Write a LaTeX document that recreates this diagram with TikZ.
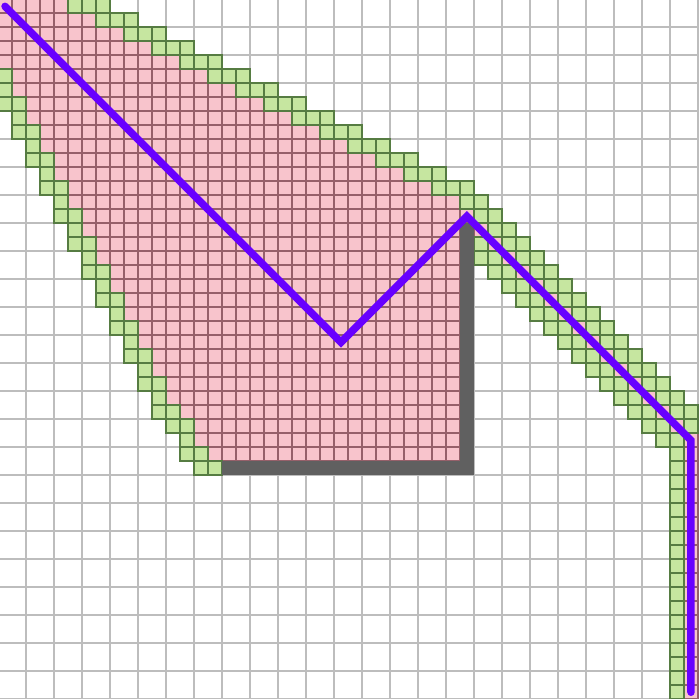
\documentclass[tikz,border=0pt]{standalone}
\usepackage{tikz}
\usetikzlibrary{calc}
\definecolor{seenpink}{RGB}{248,196,204}
\definecolor{seenedge}{RGB}{150,96,106}
\definecolor{frontgreen}{RGB}{198,230,160}
\definecolor{frontedge}{RGB}{86,124,66}
\definecolor{wallgray}{RGB}{96,96,96}
\definecolor{routeviolet}{RGB}{104,0,255}

\begin{document}
\begin{tikzpicture}[
  x=5mm, y=-5mm,
  gridline/.style={draw=black!26, line width=2.3pt},
  seen/.style={draw=seenedge, fill=seenpink, line width=2.3pt},
  front/.style={draw=frontedge, fill=frontgreen, line width=2.3pt},
  wall/.style={fill=wallgray},
  route/.style={draw=routeviolet, line width=7.6pt, line cap=round, line join=miter}
]
\useasboundingbox (0.143,0.05) rectangle (50.07,49.98);
\fill[white] (0,0) rectangle (51,51);
\draw[gridline] (0,0) grid (51,51);

% explored cells, row/first/last
\foreach \r/\a/\b in {0/0/4, 1/0/6, 2/0/8, 3/0/10, 4/0/12, 5/1/14, 6/1/16,
    7/2/18, 8/2/20, 9/3/22, 10/3/24, 11/4/26, 12/4/28, 13/5/30, 14/5/32,
    15/6/33, 16/6/32, 17/7/32, 18/7/32, 19/8/32, 20/8/32, 21/9/32, 22/9/32,
    23/10/32, 24/10/32, 25/11/32, 26/11/32, 27/12/32, 28/12/32, 29/13/32,
    30/14/32, 31/14/32, 32/15/32}
  \foreach \c in {\a,...,\b}
    \draw[seen] (\c,\r) rectangle ++(1,1);
\foreach \k in {0,...,15}
  \draw[seen] (34+\k,16+\k) rectangle ++(1,1);
\foreach \r in {32,...,49}
  \draw[seen] (49,\r) rectangle ++(1,1);

% open cells
\foreach \r/\a/\b in {5/0/0, 6/0/0, 7/0/1, 8/1/1, 9/1/2, 10/2/2, 11/2/3,
    12/3/3, 13/3/4, 14/4/4, 15/4/5, 16/5/5, 17/5/6, 18/6/6, 19/6/7, 20/7/7,
    21/7/8, 22/8/8, 23/8/9, 24/9/9, 25/9/10, 26/10/10, 27/10/11, 28/11/11,
    29/11/12, 30/12/13, 31/13/13, 32/13/14, 33/14/15,
    13/31/33, 14/33/34, 15/34/35, 16/35/36, 17/34/34, 31/47/48}
  \foreach \c in {\a,...,\b}
    \draw[front] (\c,\r) rectangle ++(1,1);
\foreach \r in {0,...,12}
  \foreach \c in {5,6,7}
    \draw[front] (2*\r+\c,\r) rectangle ++(1,1);
\foreach \r in {18,...,30}
  \foreach \c in {16,17}
    \draw[front] (\r+\c,\r) rectangle ++(1,1);
\foreach \r in {17,...,30}{
  \pgfmathtruncatemacro{\e}{min(\r+20,49)}
  \pgfmathtruncatemacro{\s}{\r+19}
  \foreach \c in {\s,...,\e}
    \draw[front] (\c,\r) rectangle ++(1,1);
}
\foreach \r in {32,...,49}
  \draw[front] (48,\r) rectangle ++(1,1);

% wall
\fill[wall] (33,16) rectangle (34,34);
\fill[wall] (16,33) rectangle (34,34);

% route
\coordinate (start) at (0.5,0.5);
\coordinate (dip) at (24.5,24.5);
\coordinate (peak) at (33.5,15.5);
\coordinate (bend) at (49.5,31.5);
\coordinate (goal) at (49.5,49.5);
\draw[route] (start) -- (dip) -- (peak) -- (bend) -- (goal);
\end{tikzpicture}
\end{document}
